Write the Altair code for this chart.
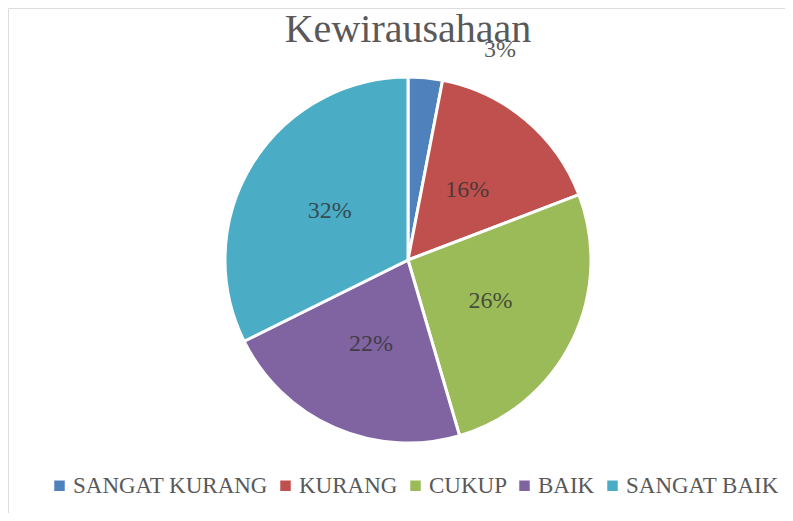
import altair as alt
import pandas as pd

categories = ["SANGAT KURANG", "KURANG", "CUKUP", "BAIK", "SANGAT BAIK"]
values = [3, 16, 26, 22, 32]
labels = ["3%", "16%", "26%", "22%", "32%"]
colors = ["#4F81BD", "#C0504D", "#9BBB59", "#8064A2", "#4BACC6"]

df = pd.DataFrame({
    "kategori": categories,
    "nilai": values,
    "label": labels,
    "urut": list(range(len(categories))),
})

CX, CY, R = 400, 252, 183
FONT = "Liberation Serif"

base = alt.Chart(df).encode(
    theta=alt.Theta("nilai:Q", stack=True),
    order=alt.Order("urut:Q"),
)

pie = base.mark_arc(radius=R, stroke="white", strokeWidth=3).encode(
    x=alt.value(CX),
    y=alt.value(CY),
    color=alt.Color(
        "kategori:N",
        sort=categories,
        scale=alt.Scale(domain=categories, range=colors),
        legend=alt.Legend(
            title=None,
            orient="none",
            direction="horizontal",
            legendX=40,
            legendY=466,
            symbolType="square",
            symbolSize=110,
            symbolStrokeWidth=0,
            labelFont=FONT,
            labelFontSize=23,
            labelColor="#595959",
            labelLimit=400,
            columnPadding=6,
            symbolOffset=0,
            labelOffset=2,
        ),
    ),
)

inner = base.mark_text(
    radius=92, font=FONT, fontSize=24, color="#333333", opacity=0.8
).encode(
    x=alt.value(CX),
    y=alt.value(CY),
    text=alt.condition(alt.datum.nilai > 5, "label:N", alt.value("")),
)

outer = base.mark_text(
    radius=231, font=FONT, fontSize=24, color="#333333", opacity=0.8, dx=70, dy=20
).encode(
    x=alt.value(CX),
    y=alt.value(CY),
    text=alt.condition(alt.datum.nilai <= 5, "label:N", alt.value("")),
)

title = alt.Chart(pd.DataFrame({"t": ["Kewirausahaan"]})).mark_text(
    font=FONT, fontSize=40, color="#595959", baseline="alphabetic"
).encode(x=alt.value(CX), y=alt.value(34), text="t:N")

chart = alt.layer(pie, inner, outer, title).properties(
    width=777, height=505, autosize=alt.AutoSizeParams(type="none"), padding=0
).configure_view(stroke=None).configure(background="white")

chart.save("out.html", embed_options={"renderer": "svg", "actions": False})
